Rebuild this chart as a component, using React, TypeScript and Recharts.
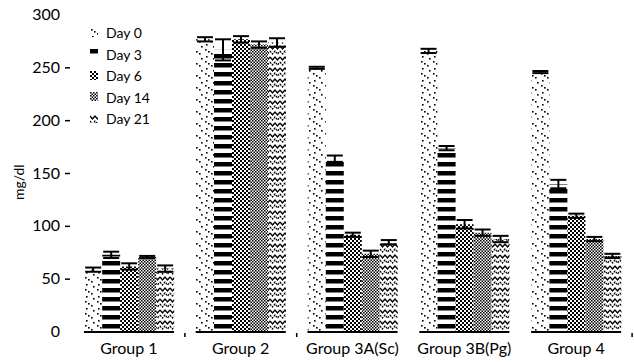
import React from "react";
import { BarChart, Bar, XAxis, YAxis, ErrorBar } from "recharts";

const groups = ["Group 1", "Group 2", "Group 3A(Sc)", "Group 3B(Pg)", "Group 4"];
const days = ["Day 0", "Day 3", "Day 6", "Day 14", "Day 21"];
const day0 = [59, 277, 250, 266, 246];
const day3 = [73, 267, 164, 174, 140];
const day6 = [62, 277, 92, 102, 110];
const day14 = [71, 272, 74, 94, 88];
const day21 = [60, 274, 85, 88, 72];
const err0 = [2, 2, 1, 2, 1];
const err3 = [3, 10, 3, 2, 4];
const err6 = [3, 3, 2, 4, 2];
const err14 = [1, 3, 3, 3, 2];
const err21 = [3, 4, 2, 3, 2];
const yTicks = [0, 50, 100, 150, 200, 250, 300];

const series = [day0, day3, day6, day14, day21];
const errs = [err0, err3, err6, err14, err21];
const keys = ["d0", "d3", "d6", "d14", "d21"];

const data = groups.map((g, i) => {
  const row: Record<string, string | number> = { group: g };
  keys.forEach((k, j) => {
    row[k] = series[j][i];
    row[k + "e"] = errs[j][i];
  });
  return row;
});

const FONT = "Lato, 'Open Sans', sans-serif";

function Patterns() {
  return (
    <defs>
      <pattern id="p0" width="12" height="12" patternUnits="userSpaceOnUse">
        <rect width="12" height="12" fill="#fff" />
        <rect x="1" y="1" width="1.6" height="1.6" fill="#000" />
        <rect x="4" y="3" width="1.6" height="1.6" fill="#000" />
        <rect x="7" y="5" width="1.6" height="1.6" fill="#000" />
        <rect x="2" y="8" width="1.6" height="1.6" fill="#000" />
        <rect x="9" y="10" width="1.6" height="1.6" fill="#000" />
      </pattern>
      <pattern id="p1" width="10" height="9" patternUnits="userSpaceOnUse">
        <rect width="10" height="9" fill="#fff" />
        <rect y="0" width="10" height="4.5" fill="#000" />
      </pattern>
      <pattern id="p2" width="4" height="4" patternUnits="userSpaceOnUse">
        <rect width="4" height="4" fill="#fff" />
        <rect x="0" y="0" width="2" height="2" fill="#000" />
        <rect x="2" y="2" width="2" height="2" fill="#000" />
      </pattern>
      <pattern id="p3" width="3" height="3" patternUnits="userSpaceOnUse">
        <rect width="3" height="3" fill="#fff" />
        <rect x="0" y="0" width="1.5" height="1.5" fill="#000" />
        <rect x="1.5" y="1.5" width="1.5" height="1.5" fill="#000" />
      </pattern>
      <pattern id="p4" width="10" height="11" patternUnits="userSpaceOnUse">
        <rect width="10" height="11" fill="#fff" />
        <path d="M0 2 L2.5 5 L5 2 L7.5 5 L10 2" stroke="#000" strokeWidth="1.4" fill="none" />
        <path d="M0 7 L2.5 10 L5 7 L7.5 10 L10 7" stroke="#000" strokeWidth="1.2" fill="none" strokeDasharray="2 1" />
      </pattern>
    </defs>
  );
}

function YTick(props: any) {
  const { x, y, payload } = props;
  return (
    <g>
      <text x={x - 13} y={y} dy={5} textAnchor="end" fontSize={16} fontFamily={FONT} fill="#000">
        {payload.value}
      </text>
      {payload.value !== 300 && payload.value !== 0 && (
        <line x1={x - 8} x2={x - 3} y1={y} y2={y} stroke="#000" strokeWidth={1.5} />
      )}
    </g>
  );
}

function XTick(props: any) {
  const { x, y, payload, index } = props;
  const base = y - 2;
  return (
    <g>
      <line x1={x - 45} x2={x + 45} y1={base} y2={base} stroke="#000" strokeWidth={2} />
      {(index === 0 || index === 1 || index === 4) && (
        <line x1={x + 56} x2={x + 56} y1={base + 1} y2={base + 5} stroke="#000" strokeWidth={1.5} />
      )}
      <text x={x} y={base + 22} textAnchor="middle" fontSize={16} fontFamily={FONT} fill="#000">
        {payload.value}
      </text>
    </g>
  );
}

function LegendBox() {
  return (
    <div
      style={{
        position: "absolute",
        left: 90,
        top: 22,
        fontFamily: FONT,
        fontSize: 14,
        lineHeight: "21.5px",
      }}
    >
      {days.map((d, i) => (
        <div key={d} style={{ display: "flex", alignItems: "center" }}>
          <svg width="10" height="10" style={{ marginRight: 6 }}>
            <rect width="8" height="9" fill={`url(#p${i})`} />
          </svg>
          <span>{d}</span>
        </div>
      ))}
    </div>
  );
}

export default function App() {
  return (
    <div style={{ width: 634, height: 362, position: "relative", background: "#fff" }}>
      <style>{`body{margin:0}`}</style>
      <div
        style={{
          position: "absolute",
          left: 0,
          top: 200,
          transform: "translate(10px, 0) rotate(-90deg)",
          transformOrigin: "left top",
          fontFamily: FONT,
          fontSize: 14,
        }}
      >
        mg/dl
      </div>
      <BarChart
        width={634}
        height={362}
        data={data}
        margin={{ top: 15, right: 2, bottom: 0, left: 0 }}
        barCategoryGap="10%"
        barGap={0}
      >
        <Patterns />
        <YAxis
          domain={[0, 300]}
          ticks={yTicks}
          width={73}
          axisLine={false}
          tickLine={false}
          tickSize={0}
          tickMargin={0}
          tick={<YTick />}
        />
        <XAxis
          dataKey="group"
          axisLine={false}
          tickLine={false}
          tickSize={0}
          tickMargin={2}
          height={30}
          interval={0}
          tick={<XTick />}
        />
        {keys.map((k, j) => (
          <Bar key={k} dataKey={k} fill={`url(#p${j})`} isAnimationActive={false}>
            <ErrorBar dataKey={k + "e"} width={8} stroke="#000" strokeWidth={2} direction="y" />
          </Bar>
        ))}
      </BarChart>
      <LegendBox />
    </div>
  );
}
